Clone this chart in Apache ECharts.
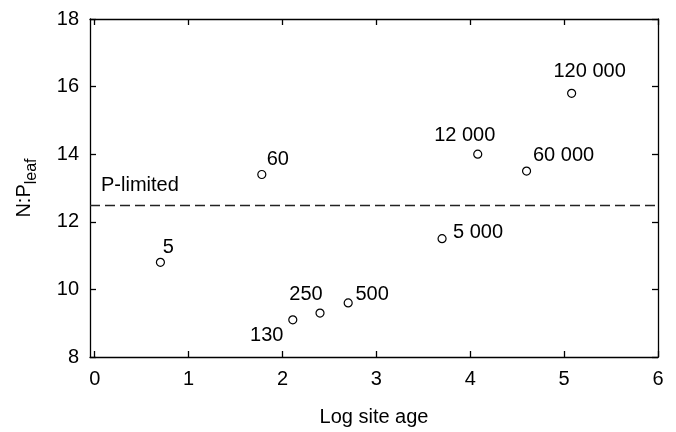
<!DOCTYPE html>
<html>
<head>
<meta charset="utf-8">
<script src="https://cdn.jsdelivr.net/npm/echarts@6/dist/echarts.min.js"></script>
<style>
  html, body { margin: 0; padding: 0; background: #fff; }
  #chart { width: 676px; height: 432px; }
</style>
</head>
<body>
<div id="chart"></div>
<script>
// site ages (years) and their leaf N:P
const siteAges = [5, 60, 130, 250, 500, 5000, 12000, 60000, 120000]
const logAge = [0.7, 1.78, 2.11, 2.4, 2.7, 3.7, 4.08, 4.6, 5.08]
const npLeaf = [10.8, 13.4, 9.1, 9.3, 9.6, 11.5, 14.0, 13.5, 15.8]
const pLimit = 12.5
const xTicks = [0, 1, 2, 3, 4, 5, 6]
const yTicks = [8, 10, 12, 14, 16, 18]

// label offsets from the point centre (styling only)
const labelOffsets = [[8, -15], [16, -15], [-26, 16], [-14, -19], [24, -8], [36, -6], [-13, -19], [37, -16], [18, -22]]

const FONT = 'Liberation Sans'
const ink = '#000'

function fmtAge(v) {
  return String(v).replace(/\B(?=(\d{3})+(?!\d))/g, ' ')
}

const points = logAge.map((x, i) => ({
  value: [x, npLeaf[i]],
  label: { offset: labelOffsets[i] },
  age: siteAges[i],
}))

const chart = echarts.init(document.getElementById('chart'), null, { renderer: 'canvas' })

const lineCommon = { show: true, onZero: false, lineStyle: { color: ink, width: 1.3 } }
const tickCommon = { inside: true, length: 6, lineStyle: { color: ink, width: 1.3 } }

chart.setOption({
  animation: false,
  backgroundColor: '#fff',
  grid: { left: 90, right: 18, top: 19, bottom: 74 },
  xAxis: [
    {
      type: 'value',
      min: -0.05,
      max: 6,
      name: 'Log site age',
      nameLocation: 'middle',
      nameGap: 50,
      nameTextStyle: { fontFamily: FONT, fontSize: 20, color: ink },
      axisLine: lineCommon,
      axisTick: Object.assign({ customValues: xTicks }, tickCommon),
      axisLabel: { customValues: xTicks, fontFamily: FONT, fontSize: 20, color: ink, margin: 12 },
      splitLine: { show: false },
    },
    {
      type: 'value',
      position: 'top',
      min: -0.05,
      max: 6,
      axisLine: lineCommon,
      axisTick: Object.assign({ customValues: xTicks }, tickCommon),
      axisLabel: { show: false },
      splitLine: { show: false },
    },
  ],
  yAxis: [
    {
      type: 'value',
      min: 8,
      max: 18,
      interval: 2,
      name: '{a|N:P}{b|leaf}',
      nameLocation: 'middle',
      nameRotate: 90,
      nameGap: 50,
      nameTextStyle: {
        rich: {
          a: { fontFamily: FONT, fontSize: 20, color: ink },
          b: { fontFamily: FONT, fontSize: 16, color: ink, padding: [16, 0, 0, 0] },
        },
      },
      axisLine: lineCommon,
      axisTick: Object.assign({ customValues: yTicks }, tickCommon),
      axisLabel: { customValues: yTicks, fontFamily: FONT, fontSize: 20, color: ink, margin: 11 },
      splitLine: { show: false },
    },
    {
      type: 'value',
      position: 'right',
      min: 8,
      max: 18,
      interval: 2,
      axisLine: lineCommon,
      axisTick: Object.assign({ customValues: yTicks }, tickCommon),
      axisLabel: { show: false },
      splitLine: { show: false },
    },
  ],
  series: [
    {
      type: 'scatter',
      data: points,
      symbol: 'circle',
      symbolSize: 8,
      itemStyle: { color: '#fff', borderColor: ink, borderWidth: 1.2, opacity: 1 },
      label: {
        show: true,
        position: 'inside',
        align: 'center',
        verticalAlign: 'middle',
        fontFamily: FONT,
        fontSize: 20,
        color: ink,
        textBorderWidth: 0,
        formatter: (p) => fmtAge(p.data.age),
      },
      markLine: {
        silent: true,
        symbol: 'none',
        lineStyle: { color: '#222', type: [10, 5], width: 1.4 },
        label: {
          show: true,
          position: 'insideStartTop',
          formatter: 'P-limited',
          fontFamily: FONT,
          fontSize: 20,
          color: ink,
          distance: [11, 9],
        },
        data: [{ yAxis: pLimit }],
      },
    },
  ],
})
</script>
</body>
</html>
